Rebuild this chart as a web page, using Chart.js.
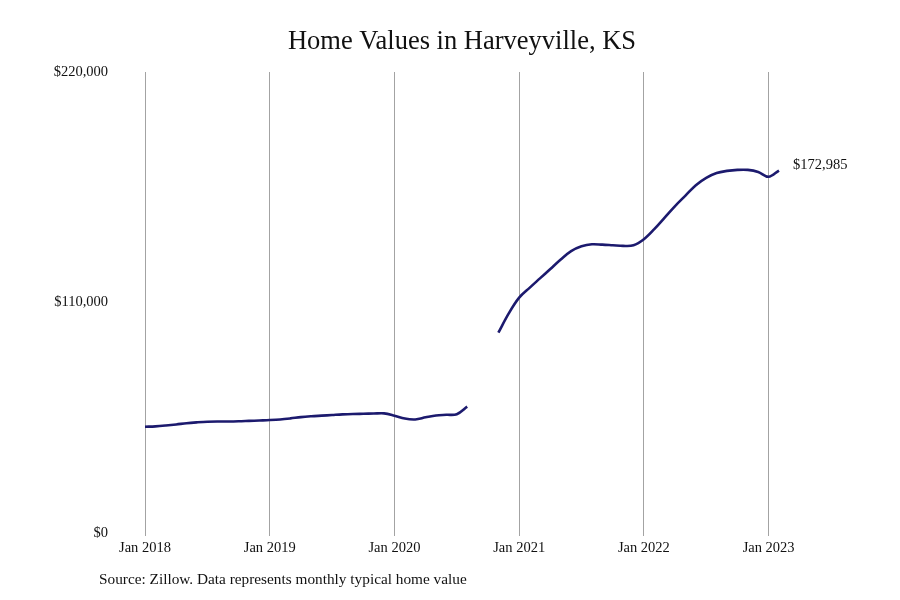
<!DOCTYPE html>
<html>
<head>
<meta charset="utf-8">
<script src="https://cdn.jsdelivr.net/npm/chart.js@4"></script>
<style>
  body { margin: 0; background: #fff; }
  #wrap { width: 900px; height: 600px; }
</style>
</head>
<body>
<div id="wrap"><canvas id="myChart"></canvas></div>
<script>
const monthNames = ["Jan", "Feb", "Mar", "Apr", "May", "Jun", "Jul", "Aug", "Sep", "Oct", "Nov", "Dec"];
const years = [2018, 2019, 2020, 2021, 2022, 2023];

// typical home value, Jan 2018 .. Feb 2023 (gap Sep-Oct 2020)
const homeValues = [
  50700, 50900, 51300, 51800, 52400, 52800, 53100, 53200, 53200, 53300, 53500, 53700,
  53900, 54200, 54700, 55300, 55700, 56000, 56300, 56600, 56800, 56900, 57000, 57100,
  56000, 54600, 54200, 55200, 56100, 56400, 56700, 60300, null, null, 95600, 104800,
  112300, 117000, 121500, 126000, 130500, 134500, 136800, 137800, 137600, 137300, 137000, 137300,
  140200, 145000, 150500, 156000, 161000, 166000, 169500, 171800, 172800, 173300, 173300, 172300,
  170000, 172985
];
const yTicks = [0, 110000, 220000];

const labels = [];
for (let i = 0; i < homeValues.length; i++) {
  labels.push(monthNames[i % 12] + " " + years[Math.floor(i / 12)]);
}

const serif = "'Liberation Serif', 'DejaVu Serif', serif";

// title, end label and source note
const extraText = {
  id: "extraText",
  afterDraw(chart) {
    const ctx = chart.ctx;
    const area = chart.chartArea;
    ctx.save();
    ctx.fillStyle = "#111";
    ctx.textBaseline = "middle";

    ctx.font = "26.5px " + serif;
    ctx.textAlign = "center";
    ctx.fillText("Home Values in Harveyville, KS", (area.left + area.right) / 2, 42);

    const pts = chart.getDatasetMeta(0).data;
    const last = pts[pts.length - 1];
    ctx.font = "14.5px " + serif;
    ctx.textAlign = "left";
    ctx.fillText("$" + homeValues[homeValues.length - 1].toLocaleString("en-US"), last.x + 14, last.y - 5);

    ctx.font = "15.3px " + serif;
    ctx.fillText("Source: Zillow. Data represents monthly typical home value", 99, 580);
    ctx.restore();
  }
};

Chart.defaults.font.family = serif;
Chart.defaults.color = "#111";

new Chart(document.getElementById("myChart"), {
  type: "line",
  data: {
    labels: labels,
    datasets: [{
      data: homeValues,
      borderColor: "#1c1a6e",
      borderWidth: 2.6,
      pointRadius: 0,
      tension: 0.35,
      spanGaps: false
    }]
  },
  options: {
    responsive: true,
    maintainAspectRatio: false,
    animation: false,
    layout: {
      padding: { top: 72, right: 121, bottom: 37, left: 0 }
    },
    plugins: {
      legend: { display: false },
      title: { display: false },
      tooltip: { enabled: false }
    },
    scales: {
      x: {
        offset: false,
        border: { display: false },
        grid: {
          color: (c) => (c.index % 12 === 0 ? "#a3a3a3" : "transparent"),
          lineWidth: 1,
          tickLength: 3
        },
        ticks: {
          autoSkip: false,
          maxRotation: 0,
          padding: 3,
          font: { size: 14.5 },
          callback: (v, i) => (i % 12 === 0 ? labels[i] : "")
        },
        afterFit: (scale) => { scale.height = 30; }
      },
      y: {
        min: 0,
        max: 220000,
        border: { display: false },
        grid: { display: false },
        afterBuildTicks: (scale) => { scale.ticks = yTicks.map(v => ({ value: v })); },
        ticks: {
          padding: 29,
          font: { size: 14.5 },
          callback: (v) => "$" + v.toLocaleString("en-US")
        },
        afterFit: (scale) => { scale.width = 145; }
      }
    }
  },
  plugins: [extraText]
});
</script>
</body>
</html>
